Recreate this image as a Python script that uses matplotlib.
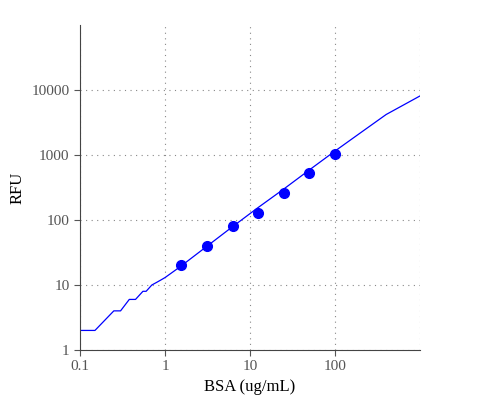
import matplotlib
matplotlib.use("Agg")
from matplotlib import pyplot as plt
from matplotlib.ticker import FixedLocator, FixedFormatter, NullLocator

# standards
conc = [1.5625, 3.125, 6.25, 12.5, 25, 50, 100]
rfu = [20, 40, 80, 130, 260, 520, 1040]

# fitted curve as drawn (flat steps at the low end)
fit_x = [0.1, 0.15, 0.25, 0.3, 0.38, 0.45, 0.55, 0.6, 0.7, 0.8, 0.9, 1.0,
         1.5, 3, 6, 12, 25, 50, 100, 200, 400, 1000]
fit_y = [2, 2, 4, 4, 6, 6, 8, 8, 10, 11, 12, 13,
         19, 38, 76, 150, 300, 590, 1150, 2200, 4200, 8100]

xticks = [0.1, 1, 10, 100]
yticks = [1, 10, 100, 1000, 10000]

plt.rcParams["font.family"] = ["Liberation Serif", "DejaVu Serif"]

fig, ax = plt.subplots(figsize=(5, 4), dpi=100)
fig.subplots_adjust(left=0.16, right=0.84, bottom=0.125, top=0.9375)

ax.plot(fit_x, fit_y, color="#0000ff", linewidth=0.9)
ax.plot(conc, rfu, "o", color="#0000ff", markersize=7)

ax.set_xscale("log")
ax.set_yscale("log")
ax.set_xlim(0.1, 1000)
ax.set_ylim(1, 100000)
ax.xaxis.set_major_locator(FixedLocator(xticks))
ax.xaxis.set_major_formatter(FixedFormatter(["0.1", "1", "10", "100"]))
ax.yaxis.set_major_locator(FixedLocator(yticks))
ax.yaxis.set_major_formatter(FixedFormatter([str(v) for v in yticks]))
ax.xaxis.set_minor_locator(NullLocator())
ax.yaxis.set_minor_locator(NullLocator())

ax.grid(True, linestyle=(0, (1, 4)), color="#888888", linewidth=0.8)
for side in ["top", "right"]:
    ax.spines[side].set_visible(False)
for side in ["left", "bottom"]:
    ax.spines[side].set_color("#444444")
ax.tick_params(colors="#555555", labelsize=11, length=4)
ax.set_xlabel("BSA (ug/mL)", fontsize=12)
ax.set_ylabel("RFU", fontsize=12)

# grid line at the right edge like the reference
ax.axvline(1000, linestyle=(0, (1, 4)), color="#888888", linewidth=0.8)

fig.savefig("out.png", dpi=100)
